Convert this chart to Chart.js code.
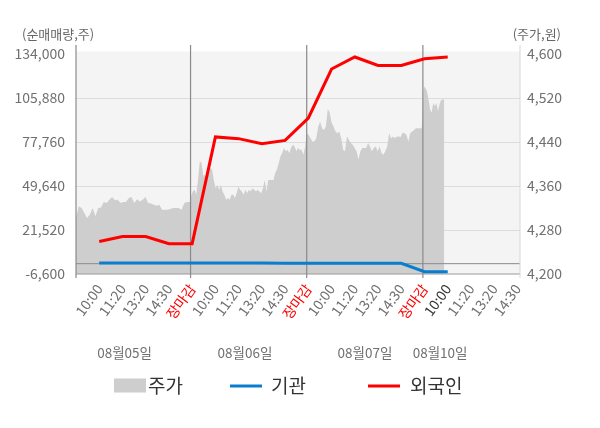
<!DOCTYPE html>
<html><head><meta charset="utf-8">
<script src="https://cdn.jsdelivr.net/npm/chart.js@4"></script>
<style>html,body{margin:0;padding:0;background:#fff}</style>
</head><body>
<canvas id="c" width="600" height="428"></canvas>
<script>
// ---- data ----
const timeLabels = ['10:00','11:20','13:20','14:30','장마감'];
const dateLabels = ['08월05일','08월06일','08월07일','08월10일'];
const legendLabels = ['주가','기관','외국인'];
const leftTitle = '(순매매량,주)';
const rightTitle = '(주가,원)';

const priceDay1 = [4302,4323,4320,4311,4302,4308,4320,4305,4320,4321,4331,4329,4335,4340,4334,4335,4329,4331,4331,4338,4340,4329,4336,4332,4335,4340,4329,4328,4326,4324,4326,4317,4317,4317,4318,4320,4320,4320,4317,4329,4331,4331];
const priceDay2 = [4341,4350,4353,4344,4371,4405,4402,4378,4381,4371,4384,4393,4390,4371,4356,4362,4353,4362,4350,4344,4335,4338,4335,4344,4344,4338,4347,4359,4353,4350,4344,4353,4347,4353,4350,4356,4353,4350,4353,4350,4347,4356,4371,4350,4371,4371,4371,4371,4384,4390,4402,4414,4420,4429,4423,4426,4420,4429,4435,4432,4423,4429,4426,4426,4417,4432];
const priceDay3 = [4456,4453,4447,4441,4441,4447,4468,4477,4465,4462,4468,4500,4493,4475,4468,4459,4456,4459,4447,4426,4423,4450,4444,4438,4435,4429,4423,4408,4423,4429,4429,4429,4438,4432,4423,4429,4432,4423,4432,4420,4417,4423,4432,4456,4447,4450,4447,4450,4450,4449,4457,4456,4453,4441,4456,4459,4462,4465,4465,4465,4465];
const priceDay4 = [4541,4538,4532,4517,4499,4493,4511,4505,4511,4496,4508,4517,4517,4518];

const foreignNet = [14200,17400,17400,12800,12800,81000,79900,76700,78800,93100,124400,132100,126700,126700,131000,132100];
const instNet = [400,400,400,400,400,400,400,400,250,250,250,250,250,250,-5100,-5100];

// ---- build ----
const FONT = "'Noto Sans CJK KR','Noto Sans',sans-serif";
Chart.defaults.font.family = FONT;
const priceDays = [priceDay1, priceDay2, priceDay3, priceDay4];
const dayRanges = [[0,4.9],[4.95,9.86],[9.93,14.88],[14.97,15.85]];
const pricePoints = [];
priceDays.forEach((arr, d) => {
  const [a, b] = dayRanges[d];
  arr.forEach((v, i) => pricePoints.push({x: a + (b - a) * i / (arr.length - 1), y: v}));
});
const foreignPoints = foreignNet.map((v, i) => ({x: i + 1, y: v}));
const instPoints = instNet.map((v, i) => ({x: i + 1, y: v}));

const COL_PRICE = '#cecece', COL_INST = '#0a7ece', COL_FOR = '#ff0000';

const deco = {
  id: 'deco',
  beforeDraw(chart) {
    const {ctx, chartArea: a} = chart;
    ctx.save();
    ctx.fillStyle = '#f4f4f4';
    ctx.fillRect(a.left, a.top - 2.5, a.right - a.left, a.bottom - a.top + 2.5);
    ctx.restore();
  },
  afterDatasetDraw(chart, args) {
    if (args.index !== 0) return;
    const {ctx, chartArea: a, scales} = chart;
    ctx.save();
    const y0 = scales.yL.getPixelForValue(0);
    ctx.strokeStyle = '#8a8a8a'; ctx.lineWidth = 1;
    ctx.beginPath(); ctx.moveTo(a.left, y0); ctx.lineTo(a.right, y0); ctx.stroke();
    ctx.strokeStyle = '#9a9a9a';
    ctx.beginPath(); ctx.moveTo(a.left, a.bottom); ctx.lineTo(a.right, a.bottom); ctx.stroke();
    ctx.strokeStyle = '#d8d8d8';
    ctx.beginPath(); ctx.moveTo(a.right, a.top - 9); ctx.lineTo(a.right, a.bottom + 4); ctx.stroke();
    ctx.strokeStyle = '#8a8a8a'; ctx.lineWidth = 1.2;
    const xs = [a.left];
    [4.93, 9.93, 14.93].forEach(v => xs.push(scales.x.getPixelForValue(v)));
    xs.forEach(x => { ctx.beginPath(); ctx.moveTo(x, a.top - 9); ctx.lineTo(x, a.bottom + 4); ctx.stroke(); });
    ctx.restore();
  },
  afterDraw(chart) {
    const {ctx, scales} = chart;
    ctx.save();
    ctx.textBaseline = 'middle';
    ctx.fillStyle = '#666';
    ctx.font = '13px ' + FONT;
    ctx.textAlign = 'left';
    ctx.fillText(leftTitle, 22, 34);
    ctx.textAlign = 'right';
    ctx.fillText(rightTitle, 561, 34);
    ctx.textAlign = 'center';
    ctx.fillStyle = '#707070';
    ctx.font = '13.5px ' + FONT;
    const datePos = [2.09, 7.27, 12.44, 15.67];
    dateLabels.forEach((t, i) => ctx.fillText(t, scales.x.getPixelForValue(datePos[i]), 353));
    const ly = 386;
    ctx.font = '19px ' + FONT;
    ctx.textAlign = 'left';
    ctx.fillStyle = COL_PRICE;
    ctx.fillRect(114, 378.5, 32, 14);
    ctx.fillStyle = '#333';
    ctx.fillText(legendLabels[0], 148, ly);
    ctx.lineWidth = 3;
    ctx.strokeStyle = COL_INST;
    ctx.beginPath(); ctx.moveTo(230, ly); ctx.lineTo(262, ly); ctx.stroke();
    ctx.fillText(legendLabels[1], 271, ly);
    ctx.strokeStyle = COL_FOR;
    ctx.beginPath(); ctx.moveTo(368, ly); ctx.lineTo(400, ly); ctx.stroke();
    ctx.fillText(legendLabels[2], 410, ly);
    ctx.restore();
  }
};

new Chart(document.getElementById('c'), {
  type: 'line',
  data: {
    datasets: [
      {label: legendLabels[0], data: pricePoints, yAxisID: 'yR', fill: 'start', backgroundColor: COL_PRICE,
       borderWidth: 0, pointRadius: 0, tension: 0, order: 3},
      {label: legendLabels[1], data: instPoints, yAxisID: 'yL', borderColor: COL_INST, borderWidth: 3,
       pointRadius: 0, tension: 0, fill: false, order: 2},
      {label: legendLabels[2], data: foreignPoints, yAxisID: 'yL', borderColor: COL_FOR, borderWidth: 3,
       pointRadius: 0, tension: 0, fill: false, order: 1}
    ]
  },
  options: {
    responsive: false,
    animation: false,
    devicePixelRatio: 1,
    layout: {padding: {top: 54, left: 0, right: 0, bottom: 0}},
    plugins: {legend: {display: false}, tooltip: {enabled: false}},
    scales: {
      x: {
        type: 'linear', min: 0, max: 19.11, bounds: 'data',
        grid: {display: false, drawTicks: false}, border: {display: false},
        afterBuildTicks(scale) { scale.ticks = Array.from({length: 19}, (_, i) => ({value: i + 1})); },
        afterFit(scale) { scale.height = 428 - 274; },
        ticks: {
          autoSkip: false, minRotation: 54, maxRotation: 54, padding: 7,
          font: {size: 14},
          color(ctx) {
            const v = ctx.tick && ctx.tick.value;
            if ((v - 1) % 5 === 4) return '#ff0000';
            if (v === 16) return '#333';
            return '#707070';
          },
          callback(v) { return timeLabels[(Math.round(v) - 1) % 5]; }
        }
      },
      yL: {
        position: 'left', min: -6600, max: 134000,
        ticks: {stepSize: 28120, font: {size: 14}, color: '#707070', padding: 11},
        grid: {drawTicks: false, color(ctx) { return (ctx.index === 0 || ctx.index === 5) ? 'rgba(0,0,0,0)' : '#dcdcdc'; }},
        border: {display: false},
        afterFit(scale) { scale.width = 76; }
      },
      yR: {
        position: 'right', min: 4200, max: 4600,
        ticks: {stepSize: 80, font: {size: 14}, color: '#707070', padding: 7},
        grid: {display: false, drawTicks: false},
        border: {display: false},
        afterFit(scale) { scale.width = 80; }
      }
    }
  },
  plugins: [deco]
});
</script>
</body></html>
